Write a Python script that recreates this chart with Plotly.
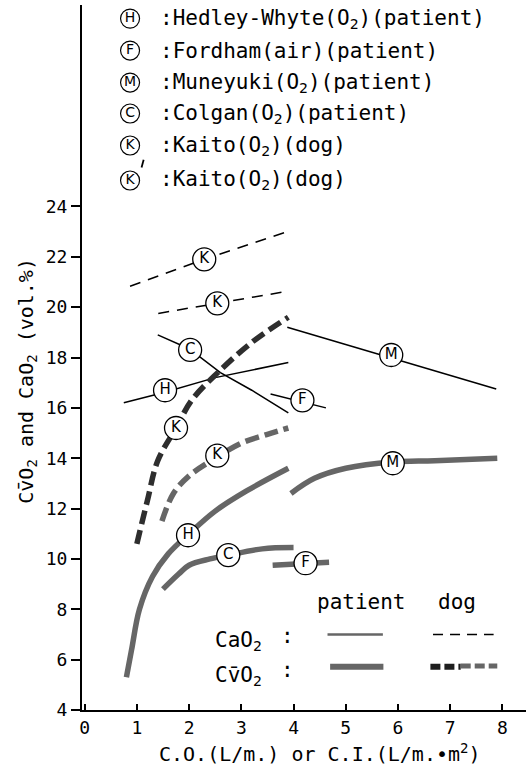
import plotly.graph_objects as go

# ---- data ----
# Patient CaO2 (thin solid)
h_ca_x = [0.75, 1.5, 2.5, 3.9]
h_ca_y = [16.2, 16.6, 17.2, 17.8]
c_ca_x = [1.4, 2.0, 2.6, 3.2, 3.9]
c_ca_y = [18.9, 18.35, 17.4, 16.7, 15.8]
f_ca_x = [3.56, 4.62]
f_ca_y = [16.55, 16.0]
m_ca_x = [3.88, 7.88]
m_ca_y = [19.2, 16.75]
# Dog CaO2 (thin dashed)
k1_ca_x = [0.87, 2.29, 3.88]
k1_ca_y = [20.83, 21.9, 23.0]
k2_ca_x = [1.41, 2.54, 3.88]
k2_ca_y = [19.75, 20.15, 20.63]
# Patient CvO2 (thick solid)
h_cv_x = [0.8, 0.9, 1.05, 1.3, 1.6, 2.0, 2.5, 3.1, 3.9]
h_cv_y = [5.3, 6.4, 8.0, 9.3, 10.2, 11.0, 11.9, 12.7, 13.6]
m_cv_x = [3.95, 4.4, 5.0, 5.9, 6.7, 7.9]
m_cv_y = [12.6, 13.2, 13.6, 13.85, 13.9, 14.0]
c_cv_x = [1.5, 1.8, 2.0, 2.4, 2.75, 3.4, 4.0]
c_cv_y = [8.8, 9.4, 9.75, 10.0, 10.15, 10.4, 10.45]
f_cv_x = [3.6, 4.68]
f_cv_y = [9.75, 9.87]
# Dog CvO2 (thick dashed)
k1_cv_x = [1.0, 1.2, 1.4, 1.75, 2.05, 2.55, 3.2, 3.9]
k1_cv_y = [10.6, 12.3, 13.9, 15.2, 16.3, 17.4, 18.6, 19.6]
k2_cv_x = [1.48, 1.7, 2.0, 2.5, 3.0, 3.5, 3.9]
k2_cv_y = [11.5, 12.6, 13.3, 14.0, 14.6, 14.95, 15.2]

# circled curve labels
lab_txt = ["K", "K", "C", "H", "M", "F", "K", "K", "H", "M", "C", "F"]
lab_x = [2.29, 2.54, 2.02, 1.54, 5.87, 4.17, 1.75, 2.54, 1.98, 5.9, 2.75, 4.23]
lab_y = [21.9, 20.15, 18.3, 16.7, 18.1, 16.3, 15.2, 14.1, 10.94, 13.8, 10.15, 9.83]

# top legend
leg_letters = ["H", "F", "M", "C", "K", "K"]
leg_names = [":Hedley-Whyte(O<sub>2</sub>)(patient)",
             ":Fordham(air)(patient)",
             ":Muneyuki(O<sub>2</sub>)(patient)",
             ":Colgan(O<sub>2</sub>)(patient)",
             ":Kaito(O<sub>2</sub>)(dog)",
             ":Kaito(O<sub>2</sub>)(dog)"]
leg_y = [31.46, 30.19, 28.92, 27.69, 26.42, 25.03]

x_ticks = [0, 1, 2, 3, 4, 5, 6, 7, 8]
y_ticks = [4, 6, 8, 10, 12, 14, 16, 18, 20, 22, 24]

FONT = "DejaVu Sans Mono"
GRAY = "#666666"

fig = go.Figure()

def thin(x, y):
    fig.add_trace(go.Scatter(x=x, y=y, mode="lines", line=dict(color="black", width=1.5),
                             hoverinfo="skip"))

def thin_dash(x, y):
    fig.add_trace(go.Scatter(x=x, y=y, mode="lines",
                             line=dict(color="black", width=1.5, dash="11px,8px"),
                             hoverinfo="skip"))

def thick(x, y):
    fig.add_trace(go.Scatter(x=x, y=y, mode="lines", line=dict(color=GRAY, width=5.5, shape="spline"),
                             hoverinfo="skip"))

def thick_dash(x, y, color):
    fig.add_trace(go.Scatter(x=x, y=y, mode="lines",
                             line=dict(color=color, width=5.5, dash="14px,6px", shape="spline"),
                             hoverinfo="skip"))

thin(h_ca_x, h_ca_y)
thin(c_ca_x, c_ca_y)
thin(f_ca_x, f_ca_y)
thin(m_ca_x, m_ca_y)
thin_dash(k1_ca_x, k1_ca_y)
thin_dash(k2_ca_x, k2_ca_y)
thick(h_cv_x, h_cv_y)
thick(m_cv_x, m_cv_y)
thick(c_cv_x, c_cv_y)
thick(f_cv_x, f_cv_y)
thick_dash(k1_cv_x, k1_cv_y, "#2e2e2e")
thick_dash(k2_cv_x, k2_cv_y, GRAY)

# circled labels on curves
fig.add_trace(go.Scatter(
    x=lab_x, y=lab_y, mode="markers+text", text=lab_txt,
    textposition="middle center",
    textfont=dict(family="DejaVu Sans", size=15, color="black"),
    marker=dict(symbol="circle", size=23, color="white", line=dict(color="black", width=1.3)),
    hoverinfo="skip"))

# circled letters in the top legend
fig.add_trace(go.Scatter(
    x=[0.87] * len(leg_letters), y=leg_y, mode="markers+text", text=leg_letters,
    textposition="middle center",
    textfont=dict(family="DejaVu Sans", size=14, color="black"),
    marker=dict(symbol="circle", size=19, color="white", line=dict(color="black", width=1.2)),
    hoverinfo="skip"))

annotations = []
for name, yy in zip(leg_names, leg_y):
    annotations.append(dict(x=1.40, y=yy, xref="x", yref="y", text=name, showarrow=False,
                            xanchor="left", yanchor="middle",
                            font=dict(family=FONT, size=21, color="black")))

# key in lower right
annotations += [
    dict(x=5.31, y=8.3, xref="x", yref="y", text="patient", showarrow=False,
         font=dict(family=FONT, size=21, color="black")),
    dict(x=7.12, y=8.3, xref="x", yref="y", text="dog", showarrow=False,
         font=dict(family=FONT, size=21, color="black")),
    dict(x=2.45, y=6.75, xref="x", yref="y", text="CaO<sub>2</sub>", showarrow=False,
         xanchor="left", font=dict(family=FONT, size=21, color="black")),
    dict(x=3.88, y=6.95, xref="x", yref="y", text=":", showarrow=False,
         font=dict(family=FONT, size=21, color="black")),
    dict(x=2.45, y=5.35, xref="x", yref="y", text="Cv\u0304O<sub>2</sub>", showarrow=False,
         xanchor="left", font=dict(family=FONT, size=21, color="black")),
    dict(x=3.88, y=5.6, xref="x", yref="y", text=":", showarrow=False,
         font=dict(family=FONT, size=21, color="black")),
]

# axis titles
annotations.append(dict(x=-0.124, y=0.467, xref="paper", yref="paper", textangle=-90,
                        xanchor="center", yanchor="middle",
                        text="Cv\u0304O<sub>2</sub> and CaO<sub>2</sub> (vol.%)", showarrow=False,
                        font=dict(family=FONT, size=20, color="black")))
annotations.append(dict(x=0.536, y=-0.061, xref="paper", yref="paper",
                        xanchor="center", yanchor="middle",
                        text="C.O.(L/m.) or C.I.(L/m.\u2022m<sup>2</sup>)", showarrow=False,
                        font=dict(family=FONT, size=20, color="black")))

shapes = [
    dict(type="line", xref="x", yref="y", x0=4.65, x1=5.71, y0=7.0, y1=7.0,
         line=dict(color=GRAY, width=2.5)),
    dict(type="line", xref="x", yref="y", x0=6.67, x1=7.83, y0=7.0, y1=7.0,
         line=dict(color="black", width=1.5, dash="10px,7px")),
    dict(type="line", xref="x", yref="y", x0=4.7, x1=5.72, y0=5.72, y1=5.72,
         line=dict(color=GRAY, width=6)),
    dict(type="line", xref="x", yref="y", x0=6.62, x1=7.2, y0=5.72, y1=5.72,
         line=dict(color="#1e1e1e", width=6, dash="10px,4px")),
    dict(type="line", xref="x", yref="y", x0=7.2, x1=7.9, y0=5.75, y1=5.75,
         line=dict(color=GRAY, width=5, dash="10px,4px")),
    # prime mark on the K' legend symbol
    dict(type="line", xref="x", yref="y", x0=1.09, x1=1.13, y0=25.55, y1=25.85,
         line=dict(color="black", width=1.8)),
]

fig.update_layout(
    width=526, height=768,
    margin=dict(l=82, r=0, t=5, b=58),
    paper_bgcolor="white", plot_bgcolor="white",
    showlegend=False,
    annotations=annotations, shapes=shapes,
    xaxis=dict(range=[-0.05, 8.45], tickvals=x_ticks, ticks="inside", ticklen=6, tickwidth=1.5,
               tickcolor="black", showline=True, linecolor="black", linewidth=2, showgrid=False,
               zeroline=False, tickfont=dict(family=FONT, size=18, color="black")),
    yaxis=dict(range=[4, 32], tickvals=y_ticks, ticks="outside", ticklen=9, tickwidth=1.5,
               tickcolor="black", showline=True, linecolor="black", linewidth=2, showgrid=False,
               zeroline=False, tickfont=dict(family=FONT, size=18, color="black")),
)

fig.write_html("out.html")
